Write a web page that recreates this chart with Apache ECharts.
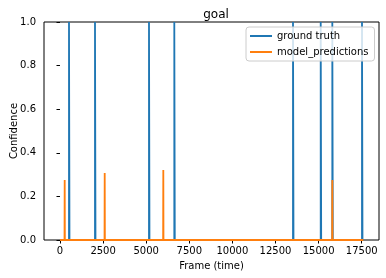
<!DOCTYPE html>
<html>
<head>
<meta charset="utf-8">
<script src="https://cdn.jsdelivr.net/npm/echarts@6/dist/echarts.min.js"></script>
<style>html,body{margin:0;padding:0;background:#fff;}#c{width:386px;height:278px;}</style>
</head>
<body>
<div id="c"></div>
<script>
// Ground-truth goal events (frame start / end), value 1 during event
var gtStart = [522, 2030, 5162, 6630, 13515, 15122, 15795, 17517];
var gtEnd   = [550, 2058, 5190, 6658, 13543, 15150, 15823, 17545];
// Model prediction spikes (frame, confidence)
var predFrame = [272, 2593, 5992, 15795];
var predPeak  = [0.275, 0.307, 0.321, 0.275];
var frameFirst = 0;
var frameLast = 17600;
var xTicks = [0, 2500, 5000, 7500, 10000, 12500, 15000, 17500];
var yTicks = [0, 0.2, 0.4, 0.6, 0.8, 1.0];

function gtData() {
  var d = [[frameFirst, 0]];
  for (var i = 0; i < gtStart.length; i++) {
    d.push([gtStart[i], 0], [gtStart[i], 1], [gtEnd[i], 1], [gtEnd[i], 0]);
  }
  d.push([frameLast, 0]);
  return d;
}
function predData() {
  var d = [[frameFirst, 0]];
  for (var i = 0; i < predFrame.length; i++) {
    d.push([predFrame[i] - 10, 0], [predFrame[i], predPeak[i]], [predFrame[i] + 10, 0]);
  }
  d.push([frameLast, 0]);
  return d;
}

var font = 'DejaVu Sans';
var chart = echarts.init(document.getElementById('c'), null, {renderer: 'canvas'});
chart.setOption({
  animation: false,
  backgroundColor: '#fff',
  title: {
    text: 'goal', left: 211, top: 4, textAlign: 'center',
    textStyle: {fontFamily: font, fontSize: 12, fontWeight: 'normal', color: '#000'}
  },
  grid: {left: 44, top: 22, right: 7, bottom: 38, containLabel: false, outerBoundsMode: 'none', show: true, borderColor: '#000', borderWidth: 1, backgroundColor: 'transparent'},
  legend: {
    orient: 'vertical', left: 246, top: 27,
    padding: [3, 6, 3, 4], itemGap: 4,
    itemWidth: 22, itemHeight: 2, icon: 'rect',
    backgroundColor: 'rgba(255,255,255,0.8)', borderColor: '#cccccc', borderWidth: 1, borderRadius: 3,
    textStyle: {fontFamily: font, fontSize: 10, color: '#000', lineHeight: 12},
    data: ['ground truth', 'model_predictions']
  },
  xAxis: {
    type: 'value', min: -928, max: 18503,
    name: 'Frame (time)', nameLocation: 'middle', nameGap: 21, nameMoveOverlap: false,
    nameTextStyle: {fontFamily: font, fontSize: 10, color: '#000'},
    axisLine: {show: false},
    axisTick: {show: true, inside: false, length: 3.5, lineStyle: {color: '#000', width: 1}, customValues: xTicks},
    axisLabel: {fontFamily: font, fontSize: 10, color: '#000', margin: 6, customValues: xTicks, formatter: function (v) { return String(v); }},
    splitLine: {show: false}
  },
  yAxis: {
    type: 'value', min: 0, max: 1, interval: 0.2,
    name: 'Confidence', nameLocation: 'middle', nameGap: 25, nameMoveOverlap: false,
    nameTextStyle: {fontFamily: font, fontSize: 10, color: '#000'},
    axisLine: {show: false},
    axisTick: {show: true, inside: false, length: 3.5, lineStyle: {color: '#000', width: 1}},
    axisLabel: {fontFamily: font, fontSize: 10, color: '#000', margin: 8, formatter: function (v) { return v.toFixed(1); }},
    splitLine: {show: false}
  },
  series: [
    {name: 'ground truth', type: 'line', data: gtData(), showSymbol: false, symbol: 'none', color: '#1f77b4', lineStyle: {width: 1.8, color: '#1f77b4'}, z: 2},
    {name: 'model_predictions', type: 'line', data: predData(), showSymbol: false, symbol: 'none', color: '#ff7f0e', lineStyle: {width: 1.8, color: '#ff7f0e'}, z: 3}
  ]
});
</script>
</body>
</html>
